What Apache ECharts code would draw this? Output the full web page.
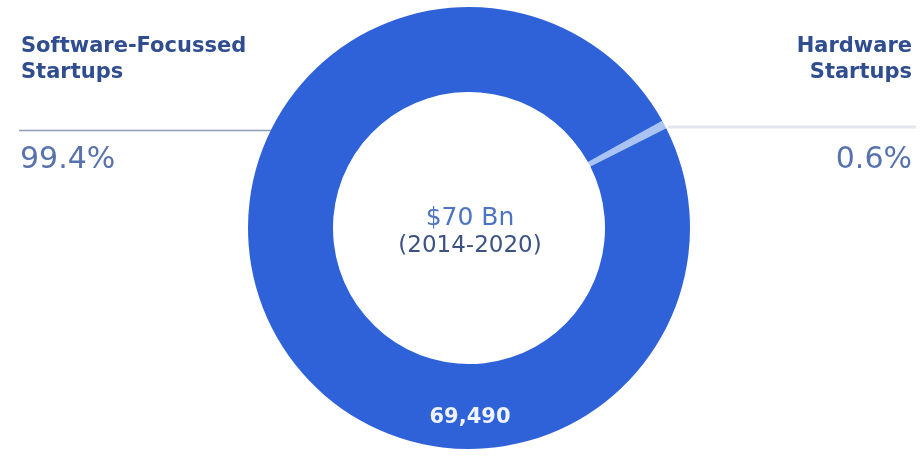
<!DOCTYPE html>
<html>
<head>
<meta charset="utf-8">
<style>
  html, body { margin: 0; padding: 0; background: #ffffff; }
  #chart { width: 922px; height: 457px; }
</style>
<script src="https://cdn.jsdelivr.net/npm/echarts@6/dist/echarts.min.js"></script>
</head>
<body>
<div id="chart"></div>
<script>
// Startup funding split, $ millions
const categories = ['Hardware\nStartups', 'Software-Focussed\nStartups'];
const values = [420, 69490];
const centerLines = ['$70 Bn', '(2014-2020)'];

const sliceColors = ['#a9c3f2', '#2f62d9'];
const total = values.reduce((a, b) => a + b, 0);
const pct = values.map(v => (v / total * 100).toFixed(1) + '%');
const fmt = v => v.toLocaleString('en-US');

const FONT = '"DejaVu Sans", "Noto Sans", sans-serif';
const chart = echarts.init(document.getElementById('chart'), null, { renderer: 'canvas' });

chart.setOption({
  animation: false,
  backgroundColor: '#ffffff',
  series: [{
    type: 'pie',
    center: [469, 228],
    radius: [136, 221],
    startAngle: 29,
    clockwise: true,
    silent: true,
    label: { show: false },
    labelLine: { show: false },
    itemStyle: { borderWidth: 0 },
    data: values.map((v, i) => ({
      name: categories[i],
      value: v,
      itemStyle: { color: sliceColors[i] }
    }))
  }],
  graphic: [
    // left annotation
    { type: 'text', x: 21, y: 60, z: 10, style: { text: categories[1], font: '700 21px ' + FONT, fill: '#2f4d8f', lineHeight: 26, verticalAlign: 'middle' } },
    { type: 'line', z: 0, shape: { x1: 19, y1: 130.5, x2: 272, y2: 130.5 }, style: { stroke: '#8f9cb8', lineWidth: 1.5 } },
    { type: 'text', x: 20, y: 160, z: 10, style: { text: pct[1], font: '400 30px ' + FONT, fill: '#5772ad', verticalAlign: 'middle' } },
    // right annotation
    { type: 'text', x: 912, y: 60, z: 10, style: { text: categories[0], font: '700 21px ' + FONT, fill: '#2f4d8f', lineHeight: 26, align: 'right', verticalAlign: 'middle' } },
    { type: 'line', z: 0, shape: { x1: 668, y1: 127, x2: 916, y2: 127 }, style: { stroke: '#e4e8ee', lineWidth: 3 } },
    { type: 'text', x: 912, y: 160, z: 10, style: { text: pct[0], font: '400 30px ' + FONT, fill: '#5772ad', align: 'right', verticalAlign: 'middle' } },
    // centre caption
    { type: 'text', x: 470, y: 218, z: 10, style: { text: centerLines[0], font: '400 25px ' + FONT, fill: '#4d74c2', align: 'center', verticalAlign: 'middle' } },
    { type: 'text', x: 470, y: 246, z: 10, style: { text: centerLines[1], font: '400 23px ' + FONT, fill: '#3b5283', align: 'center', verticalAlign: 'middle' } },
    // value on the software slice
    { type: 'text', x: 470, y: 418, z: 10, style: { text: fmt(values[1]), font: '700 21px ' + FONT, fill: '#eef3ff', align: 'center', verticalAlign: 'middle' } }
  ]
});
</script>
</body>
</html>
